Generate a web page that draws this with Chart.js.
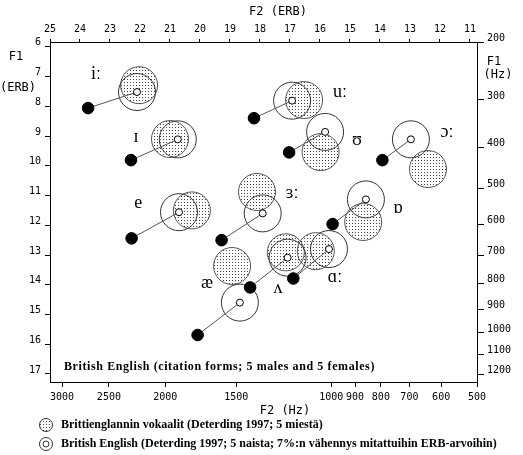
<!DOCTYPE html>
<html>
<head>
<meta charset="utf-8">
<script src="https://cdn.jsdelivr.net/npm/chart.js@4"></script>
<style>
  body { margin: 0; background: #fff; }
  #wrap { width: 523px; height: 455px; }
</style>
</head>
<body>
<div id="wrap"><canvas id="myChart"></canvas></div>
<script>
// vowels, British English (Deterding 1997)
var vowels = ['iː', 'ɪ', 'e', 'ɜː', 'æ', 'ʌ', 'ɑː', 'ɒ', 'uː', 'ʊ', 'ɔː'];

// 5 males, ERB
var maleF2 = [22.03, 21.00, 20.27, 18.10, 18.93, 17.14, 16.14, 14.56, 16.53, 15.98, 12.40];
var maleF1 = [7.29, 9.10, 11.50, 10.88, 13.37, 12.91, 12.87, 11.89, 7.79, 9.54, 10.11];

// 5 females, measured ERB (black dots)
var femaleF2 = [23.73, 22.30, 22.28, 19.28, 20.08, 18.33, 16.89, 15.58, 18.20, 17.03, 13.92];
var femaleF1 = [8.06, 9.81, 12.44, 12.50, 15.69, 14.09, 13.79, 11.96, 8.40, 9.55, 9.81];

// 5 females, reduced by 7% (open circles)
var femaleRedF2 = [22.10, 20.74, 20.70, 17.91, 18.67, 17.08, 15.70, 14.47, 16.93, 15.83, 12.97];
var femaleRedF1 = [7.52, 9.11, 11.56, 11.60, 14.60, 13.09, 12.80, 11.13, 7.81, 8.86, 9.11];

// where the vowel symbols sit (ERB)
var labelF2 = [23.47, 22.13, 22.06, 16.93, 19.77, 17.40, 15.50, 13.40, 15.33, 14.77, 11.77];
var labelF1 = [6.92, 9.03, 11.27, 10.92, 13.94, 14.11, 13.74, 11.42, 7.52, 9.13, 8.87];

// tick labels
var f2ErbTicks = [25, 24, 23, 22, 21, 20, 19, 18, 17, 16, 15, 14, 13, 12, 11];
var f1ErbTicks = [6, 7, 8, 9, 10, 11, 12, 13, 14, 15, 16, 17];
var f2HzTicks = [3000, 2500, 2000, 1500, 1000, 900, 800, 700, 600, 500];
var f1HzTicks = [200, 300, 400, 500, 600, 700, 800, 900, 1000, 1100, 1200];

function hzToErb(f) {
    return 21.4 * Math.log10(0.00437 * f + 1);
}

var tickFont = { family: 'DejaVu Sans Mono', size: 10 };
var labelFont = 'DejaVu Sans Mono';

// dotted fill
var dotCanvas = document.createElement('canvas');
dotCanvas.width = 3;
dotCanvas.height = 3;
var dctx = dotCanvas.getContext('2d');
dctx.fillStyle = '#444';
dctx.fillRect(1, 1, 1, 1);
var dots = dctx.createPattern(dotCanvas, 'repeat');

function pts(xs, ys) {
    return xs.map(function (v, i) { return { x: v, y: ys[i] }; });
}

var datasets = [];
datasets.push({
    label: 'small', data: pts(femaleRedF2, femaleRedF1), order: 0,
    pointRadius: 3.5, backgroundColor: '#fff', borderColor: '#000', borderWidth: 1
});
datasets.push({
    label: 'measured', data: pts(femaleF2, femaleF1), order: 1,
    pointRadius: 5.8, backgroundColor: '#000', borderColor: '#000', borderWidth: 1
});
vowels.forEach(function (v, i) {
    datasets.push({
        label: 'line ' + v,
        data: [{ x: femaleF2[i], y: femaleF1[i] }, { x: femaleRedF2[i], y: femaleRedF1[i] }],
        showLine: true, pointRadius: 0, borderColor: '#555', borderWidth: 1, order: 2
    });
});
datasets.push({
    label: 'female', data: pts(femaleRedF2, femaleRedF1), order: 3,
    pointRadius: 18.5, backgroundColor: 'rgba(0,0,0,0)', borderColor: '#333', borderWidth: 1
});
datasets.push({
    label: 'male', data: pts(maleF2, maleF1), order: 4,
    pointRadius: 18.5, backgroundColor: dots, borderColor: '#555', borderWidth: 1
});

function fixedTicks(values, labels) {
    return {
        afterBuildTicks: function (scale) {
            scale.ticks = values.map(function (v) { return { value: v }; });
        },
        callback: function (value, index) { return labels[index]; }
    };
}

var f2Hz = fixedTicks(f2HzTicks.map(hzToErb), f2HzTicks);
var f2Erb = fixedTicks(f2ErbTicks, f2ErbTicks);
var f1Hz = fixedTicks(f1HzTicks.map(hzToErb), f1HzTicks);
var f1Erb = fixedTicks(f1ErbTicks, f1ErbTicks);

var xMin = hzToErb(500), xMax = 25;
var yMin = hzToErb(200), yMax = 17.27;

var textPlugin = {
    id: 'texts',
    afterDraw: function (chart) {
        var c = chart.ctx;
        var sx = chart.scales.x, sy = chart.scales.y;
        c.save();
        // vowel symbols
        c.fillStyle = '#000';
        c.font = '18px "Liberation Serif", "DejaVu Serif", serif';
        c.textAlign = 'center';
        c.textBaseline = 'middle';
        vowels.forEach(function (v, i) {
            c.fillText(v, sx.getPixelForValue(labelF2[i]), sy.getPixelForValue(labelF1[i]));
        });
        // axis titles
        c.font = '12px ' + labelFont;
        c.fillText('F2 (ERB)', 278, 12);
        c.fillText('F2 (Hz)', 285, 411);
        c.fillText('F1', 16, 57);
        c.fillText('(ERB)', 18, 88);
        c.fillText('F1', 494, 62);
        c.fillText('(Hz)', 498, 75);
        // caption inside the plot
        c.textAlign = 'left';
        c.font = 'bold 12px "Liberation Serif", serif';
        c.letterSpacing = '0.6px';
        c.fillText('British English (citation forms; 5 males and 5 females)', 64, 367);
        c.letterSpacing = '0px';
        // legend
        c.fillText('Brittienglannin vokaalit (Deterding 1997; 5 miestä)', 61, 425);
        c.fillText('British English (Deterding 1997; 5 naista; 7%:n vähennys mitattuihin ERB-arvoihin)', 61, 444);
        c.lineWidth = 1;
        c.strokeStyle = '#333';
        c.beginPath();
        c.arc(46, 425, 6.5, 0, Math.PI * 2);
        c.fillStyle = dots;
        c.fill();
        c.stroke();
        c.beginPath();
        c.arc(46, 444, 6.5, 0, Math.PI * 2);
        c.stroke();
        c.beginPath();
        c.arc(46, 444, 3, 0, Math.PI * 2);
        c.stroke();
        c.restore();
    }
};

function axis(pos, ticks, width, tickLen, pad, extra) {
    var o = {
        type: 'linear',
        position: pos,
        reverse: true,
        grid: { drawOnChartArea: false, drawTicks: true, tickLength: tickLen, color: '#000' },
        border: { display: true, color: '#000', width: 1 },
        ticks: {
            color: '#000', font: tickFont, autoSkip: false, maxRotation: 0,
            padding: pad, callback: ticks.callback
        },
        afterBuildTicks: ticks.afterBuildTicks,
        afterFit: function (scale) {
            if (pos === 'left' || pos === 'right') scale.width = width;
            else scale.height = width;
        }
    };
    Object.assign(o, extra);
    return o;
}

var ctx = document.getElementById('myChart').getContext('2d');
var myChart = new Chart(ctx, {
    type: 'scatter',
    data: { datasets: datasets },
    options: {
        responsive: true,
        maintainAspectRatio: false,
        animation: false,
        events: [],
        layout: { padding: 0 },
        plugins: { legend: { display: false }, tooltip: { enabled: false } },
        scales: {
            x: axis('bottom', f2Hz, 73, 5, 4, { min: xMin, max: xMax }),
            x2: axis('top', f2Erb, 42, 3, 4, { min: xMin, max: xMax }),
            y: axis('left', f1Erb, 50, 5, 4, { min: yMin, max: yMax }),
            y2: axis('right', f1Hz, 46, 7, 3, { min: yMin, max: yMax })
        }
    },
    plugins: [textPlugin]
});
myChart.options.scales.y.ticks.labelOffset = -4;
myChart.options.scales.y2.ticks.labelOffset = -4;
myChart.update();
</script>
</body>
</html>
